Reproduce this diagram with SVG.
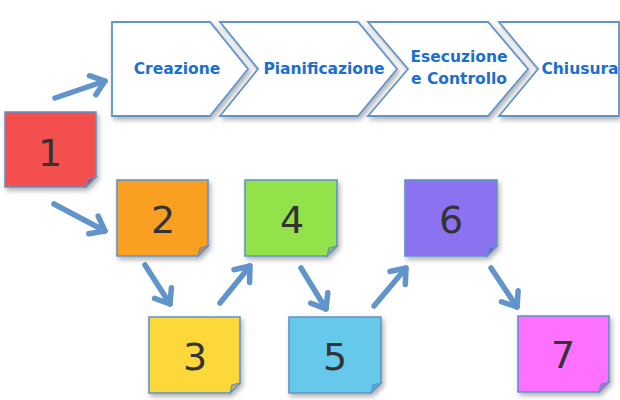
<svg xmlns="http://www.w3.org/2000/svg" width="620" height="400" viewBox="0 0 620 400">
<defs>
<filter id="sh" x="-20%" y="-20%" width="150%" height="150%">
<feDropShadow dx="2" dy="3" stdDeviation="2.5" flood-color="#000" flood-opacity="0.3"/>
</filter>
<marker id="ah" markerUnits="userSpaceOnUse" markerWidth="30" markerHeight="30" refX="0" refY="0" viewBox="-20 -15 30 30" orient="auto">
<path d="M-13,-10 L0,0 L-13,10" fill="none" stroke="#6194cb" stroke-width="5.5" stroke-linecap="round" stroke-linejoin="round"/>
</marker>
</defs>
<style>
.chev{fill:#fff;stroke:#6194cb;stroke-width:1.8;filter:url(#sh)}
.ct{font-family:"DejaVu Sans",sans-serif;font-weight:bold;font-size:15.5px;fill:#1a6fd0;text-anchor:middle}
.note{stroke:#5e93c8;stroke-width:1.6;filter:url(#sh)}
.fold{stroke:#5e93c8;stroke-width:1.2}
.num{font-family:"DejaVu Sans",sans-serif;font-size:38px;fill:#333;text-anchor:middle}
.arr{fill:none;stroke:#6194cb;stroke-width:5.5;stroke-linecap:round;marker-end:url(#ah)}
</style>
<g id="creazione">
<path class="chev" d="M112,22 H210 L248,69 L210,116 H112 Z"/>
<text class="ct" x="177" y="74">Creazione</text>
</g>
<g id="pianificazione">
<path class="chev" d="M220,22 H358 L397,69 L358,116 H220 L258,69 Z"/>
<text class="ct" x="324" y="74">Pianificazione</text>
</g>
<g id="esecuzione">
<path class="chev" d="M368,22 H488 L528,69 L488,116 H368 L408,69 Z"/>
<text class="ct" x="459" y="62">Esecuzione</text>
<text class="ct" x="459" y="84">e Controllo</text>
</g>
<g id="chiusura">
<path class="chev" d="M499,22 H619 V116 H499 L538,69 Z"/>
<text class="ct" x="580" y="74">Chiusura</text>
</g>
<g id="connectors">
<line class="arr" x1="55" y1="98" x2="105" y2="81"/>
<line class="arr" x1="54" y1="204" x2="105" y2="231"/>
<line class="arr" x1="145" y1="265" x2="170" y2="304"/>
<line class="arr" x1="220" y1="303" x2="250" y2="266"/>
<line class="arr" x1="301" y1="268" x2="326" y2="309"/>
<line class="arr" x1="374" y1="306" x2="406" y2="268"/>
<line class="arr" x1="491" y1="268" x2="517" y2="307"/>
</g>
<g id="n1">
<path class="note" fill="#f44f4f" d="M5,112 H96 V177 L86,187 H5 Z"/>
<path class="fold" fill="#c7455c" d="M96,177 L86,187 L88,179 Z"/>
<text class="num" x="50" y="166">1</text>
</g>
<g id="n2">
<path class="note" fill="#f9a024" d="M117,180 H208 V246 L198,256 H117 Z"/>
<path class="fold" fill="#d28a3a" d="M208,246 L198,256 L200,248 Z"/>
<text class="num" x="163" y="233">2</text>
</g>
<g id="n3">
<path class="note" fill="#fdd83a" d="M149,317 H240 V383 L230,393 H149 Z"/>
<path class="fold" fill="#d2b048" d="M240,383 L230,393 L232,385 Z"/>
<text class="num" x="195" y="370">3</text>
</g>
<g id="n4">
<path class="note" fill="#94e24a" d="M245,180 H337 V246 L327,256 H245 Z"/>
<path class="fold" fill="#80c060" d="M337,246 L327,256 L329,248 Z"/>
<text class="num" x="292" y="233">4</text>
</g>
<g id="n5">
<path class="note" fill="#66c8ea" d="M289,317 H381 V383 L371,393 H289 Z"/>
<path class="fold" fill="#5aa8d0" d="M381,383 L371,393 L373,385 Z"/>
<text class="num" x="335" y="370">5</text>
</g>
<g id="n6">
<path class="note" fill="#8a72f0" d="M405,180 H497 V246 L487,256 H405 Z"/>
<path class="fold" fill="#7060d0" d="M497,246 L487,256 L489,248 Z"/>
<text class="num" x="451" y="233">6</text>
</g>
<g id="n7">
<path class="note" fill="#fe6ffe" d="M518,316 H609 V382 L599,392 H518 Z"/>
<path class="fold" fill="#d060d8" d="M609,382 L599,392 L601,384 Z"/>
<text class="num" x="563" y="368">7</text>
</g>
</svg>
